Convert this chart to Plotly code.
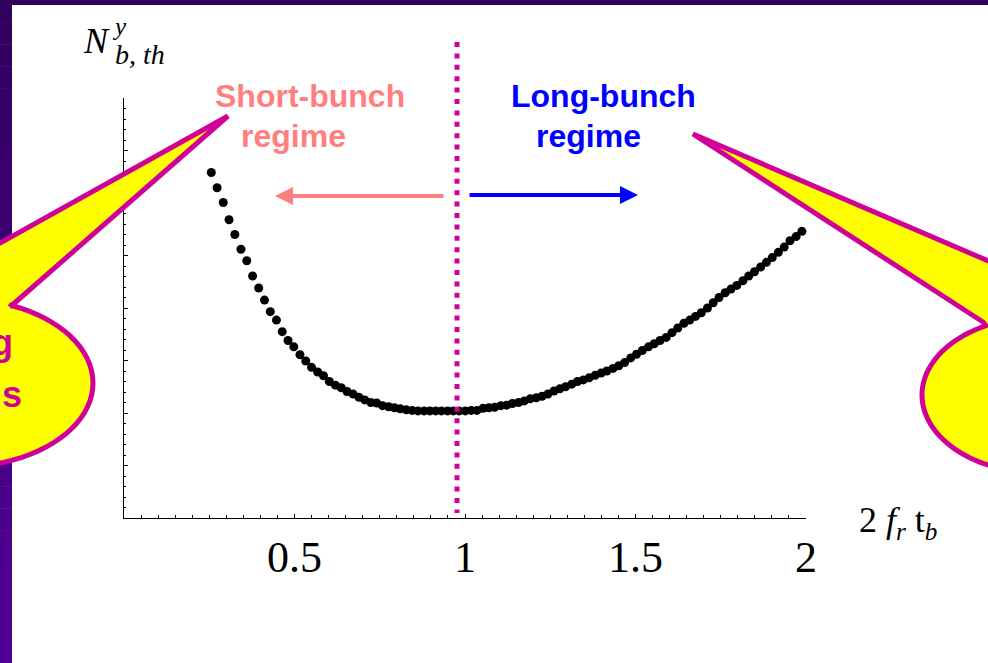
import numpy as np
import plotly.graph_objects as go

# ---------------- data ----------------
x_vals = [0.256, 0.273, 0.291, 0.308, 0.325, 0.343, 0.360, 0.377, 0.395, 0.412,
          0.429, 0.447, 0.464, 0.481, 0.498, 0.516, 0.533, 0.550, 0.568, 0.585,
          0.602, 0.620, 0.637, 0.654, 0.672, 0.689, 0.706, 0.724, 0.741, 0.758,
          0.776, 0.793, 0.810, 0.828, 0.845, 0.862, 0.880, 0.897, 0.914, 0.931,
          0.949, 0.966, 0.983, 1.001, 1.018, 1.035, 1.053, 1.070, 1.087, 1.105,
          1.122, 1.139, 1.157, 1.174, 1.191, 1.209, 1.226, 1.243, 1.261, 1.278,
          1.295, 1.313, 1.330, 1.347, 1.364, 1.382, 1.399, 1.416, 1.434, 1.451,
          1.468, 1.486, 1.503, 1.520, 1.538, 1.555, 1.572, 1.590, 1.607, 1.624,
          1.642, 1.659, 1.676, 1.693, 1.711, 1.728, 1.745, 1.763, 1.780, 1.797,
          1.815, 1.832, 1.849, 1.867, 1.884, 1.901, 1.919, 1.936, 1.953, 1.971,
          1.988, 2.005]
y_vals = [6.58, 6.29, 6.01, 5.68, 5.40, 5.12, 4.90, 4.61, 4.38, 4.15,
          3.93, 3.77, 3.55, 3.38, 3.26, 3.11, 2.99, 2.87, 2.78, 2.71,
          2.60, 2.53, 2.48, 2.41, 2.36, 2.30, 2.25, 2.20, 2.19, 2.14,
          2.12, 2.10, 2.08, 2.06, 2.05, 2.04, 2.04, 2.04, 2.04, 2.04,
          2.04, 2.04, 2.04, 2.04, 2.05, 2.05, 2.09, 2.10, 2.11, 2.14,
          2.15, 2.18, 2.20, 2.23, 2.27, 2.29, 2.32, 2.36, 2.42, 2.46,
          2.50, 2.55, 2.60, 2.63, 2.67, 2.72, 2.76, 2.80, 2.85, 2.90,
          2.96, 3.05, 3.12, 3.19, 3.26, 3.32, 3.38, 3.44, 3.53, 3.62,
          3.71, 3.77, 3.84, 3.91, 4.00, 4.10, 4.20, 4.29, 4.36, 4.43,
          4.52, 4.61, 4.69, 4.78, 4.87, 4.96, 5.06, 5.16, 5.28, 5.36,
          5.46, 5.57]
x_tick_vals = [0.5, 1, 1.5, 2]
x_tick_text = ["0.5", "1", "1.5", "2"]
y_tick_vals = [0, 1, 2, 3, 4, 5, 6, 7, 8]

# ---------------- layout geometry (pixels) ----------------
FW, FH = 988, 663
L, R, T, B = 124, 806, 98, 518
W, H = R - L, B - T


def px(x):
    return (x - L) / W


def py(y):
    return (B - y) / H


def path_from(points):
    s = "M " + " L ".join(f"{px(a):.5f},{py(b):.5f}" for a, b in points)
    return s + " Z"


MAGENTA = "#D10096"
PINK = "#FF7F7F"
BLUE = "#0000FF"
YELLOW = "#FFFF00"

shapes = []
# purple slide border (vertical gradient)
n = 30
c_top = np.array([50, 0, 94])
c_bot = np.array([82, 0, 152])
for i in range(n):
    y0 = FH * i / n
    y1 = FH * (i + 1) / n + 0.5
    c = c_top + (c_bot - c_top) * (i + 0.5) / n
    col = f"rgb({int(c[0])},{int(c[1])},{int(c[2])})"
    shapes.append(dict(type="rect", xref="paper", yref="paper",
                       x0=px(0), x1=px(12), y0=py(y0), y1=py(y1),
                       fillcolor=col, line=dict(width=0), layer="above"))
shapes.append(dict(type="rect", xref="paper", yref="paper",
                   x0=px(0), x1=px(FW), y0=py(0), y1=py(5),
                   fillcolor="rgb(50,0,92)", line=dict(width=0), layer="above"))

# dotted separator
shapes.append(dict(type="line", xref="paper", yref="paper",
                   x0=px(457), x1=px(457), y0=py(42), y1=py(513),
                   line=dict(color=MAGENTA, width=5, dash="5px,6.4px"), layer="above"))

# left speech bubble
cx, cy, a, b = -40, 383, 133, 84
t0 = np.arctan2((307 - cy) / b, (10 - cx) / a)
ts = np.linspace(t0, np.pi, 60)
arc = [(cx + a * np.cos(t), cy + b * np.sin(t)) for t in ts]
left_pts = [(228, 116), (10, 307)] + arc + [(-173, 340), (-100, 299), (0, 243)]
shapes.append(dict(type="path", xref="paper", yref="paper", path=path_from(left_pts),
                   fillcolor=YELLOW, line=dict(color=MAGENTA, width=5), layer="above"))

# right speech bubble
cx, cy, a, b = 1040, 395, 118, 78
t0 = np.arctan2((322 - cy) / b, (983 - cx) / a)
ts = np.linspace(t0, -1.5 * np.pi, 60)
arc = [(cx + a * np.cos(t), cy + b * np.sin(t)) for t in ts]
right_pts = [(693, 134), (983, 322)] + arc + [(1200, 473), (1200, 330), (1100, 309)]
shapes.append(dict(type="path", xref="paper", yref="paper", path=path_from(right_pts),
                   fillcolor=YELLOW, line=dict(color=MAGENTA, width=5), layer="above"))

SANS = "Liberation Sans, Arial, sans-serif"
SERIF = "Liberation Serif, Times New Roman, serif"

annotations = [
    # regime labels
    dict(x=px(310), y=py(96), text="<b>Short-bunch</b>", font=dict(family=SANS, size=32, color=PINK)),
    dict(x=px(293), y=py(136), text="<b>regime</b>", font=dict(family=SANS, size=32, color=PINK)),
    dict(x=px(603), y=py(96), text="<b>Long-bunch</b>", font=dict(family=SANS, size=32, color=BLUE)),
    dict(x=px(588), y=py(136), text="<b>regime</b>", font=dict(family=SANS, size=32, color=BLUE)),
    # arrows
    dict(x=px(275), y=py(196), ax=170, ay=0, text="", showarrow=True, arrowhead=2,
         arrowsize=0.9, arrowwidth=4, arrowcolor=PINK, standoff=0, startstandoff=0),
    dict(x=px(638), y=py(195), ax=-170, ay=0, text="", showarrow=True, arrowhead=2,
         arrowsize=0.9, arrowwidth=4, arrowcolor=BLUE, standoff=0, startstandoff=0),
    # bubble text fragments
    dict(x=px(15), y=py(342), xanchor="right", text="<b>g</b>",
         font=dict(family=SANS, size=36, color=MAGENTA)),
    dict(x=px(24), y=py(394), xanchor="right", text="<b>s</b>",
         font=dict(family=SANS, size=36, color=MAGENTA)),
    # y-axis label  N^y_{b,th}
    dict(x=px(96), y=py(41), text="<i>N</i>", font=dict(family=SERIF, size=36, color="black")),
    dict(x=px(110), y=py(27), xanchor="left", text="<i>y</i>",
         font=dict(family=SERIF, size=25, color="black")),
    dict(x=px(113), y=py(55), xanchor="left", text="<i>b, th</i>",
         font=dict(family=SERIF, size=28, color="black")),
    # x-axis label 2 f_r t_b
    dict(x=px(857), y=py(522), xanchor="left",
         text="2 <i>f</i><sub><i>r</i></sub> t<sub><i>b</i></sub>",
         font=dict(family=SERIF, size=36, color="black")),
]
for an in annotations:
    an.setdefault("xref", "paper")
    an.setdefault("yref", "paper")
    an.setdefault("showarrow", False)
    an.setdefault("xanchor", "center")
    an.setdefault("yanchor", "middle")

fig = go.Figure()
fig.add_trace(go.Scatter(x=x_vals, y=y_vals, mode="markers",
                         marker=dict(color="black", size=9, line=dict(width=0)),
                         cliponaxis=False, hoverinfo="skip"))

fig.update_layout(
    width=FW, height=FH,
    margin=dict(l=L, r=FW - R, t=T, b=FH - B, pad=0),
    paper_bgcolor="white", plot_bgcolor="white",
    showlegend=False,
    shapes=shapes,
    annotations=annotations,
    xaxis=dict(range=[0, 2], showgrid=False, zeroline=False,
               showline=True, linecolor="black", linewidth=1,
               tickmode="array", tickvals=x_tick_vals, ticktext=x_tick_text,
               ticks="inside", ticklen=4, tickcolor="black", tickwidth=1,
               ticklabelstandoff=0,
               tickfont=dict(family=SERIF, size=44, color="black"),
               minor=dict(tickmode="linear", tick0=0, dtick=0.05, ticks="inside",
                          ticklen=3, tickcolor="black", showgrid=False)),
    yaxis=dict(range=[0, 8], showgrid=False, zeroline=False,
               showline=True, linecolor="black", linewidth=1,
               tickmode="array", tickvals=y_tick_vals, showticklabels=False,
               ticks="inside", ticklen=4, tickcolor="black", tickwidth=1,
               minor=dict(tickmode="linear", tick0=0, dtick=0.2, ticks="inside",
                          ticklen=2, tickcolor="black", showgrid=False)),
)

fig.write_html("out.html",
               config={"displayModeBar": False},
               post_script="document.body.style.margin='0px';"
                           "document.body.style.overflow='hidden';")
